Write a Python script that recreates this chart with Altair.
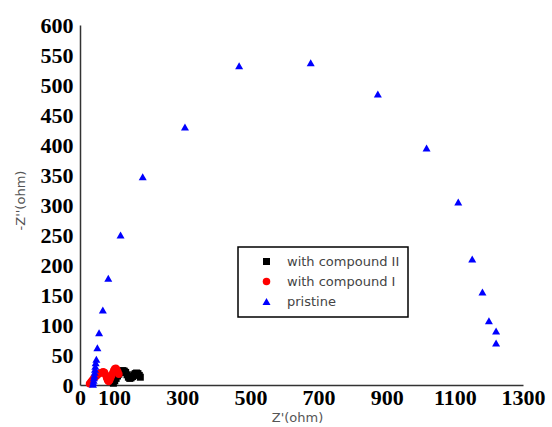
import altair as alt
import pandas as pd

series_order = ["with compound II", "with compound I", "pristine"]
series_colors = ["black", "red", "blue"]
series_shapes = ["square", "circle", "triangle-up"]
series_sizes = [49, 64, 110]

pristine_x = [38, 39, 40, 41, 42, 43, 44, 45, 46, 48, 51, 56, 67, 83, 119, 184, 308,
              467, 677, 874, 1017, 1110, 1151, 1181, 1200, 1221, 1221]
pristine_y = [1, 4, 8, 12, 16, 21, 26, 31, 37, 43, 62, 87, 125, 178, 250, 347, 430,
              532, 537, 485, 395, 305, 210, 155, 107, 90, 70]

comp1_x = [28, 32, 36, 40, 44, 48, 52, 56, 60, 64, 68, 72, 75, 78, 81, 84, 87, 90,
           93, 96, 99, 102, 105, 108, 111, 114]
comp1_y = [2, 5, 8, 11, 13, 15, 17, 19, 20, 21, 22, 21, 17, 12, 8, 6, 8, 12,
           16, 20, 24, 27, 28, 26, 22, 18]

comp2_x = [98, 102, 106, 110, 114, 118, 122, 126, 130, 134, 138, 142, 146, 150,
           154, 158, 162, 166, 170, 174, 177]
comp2_y = [3, 7, 11, 15, 18, 21, 23, 24, 23, 21, 17, 13, 11, 12,
           14, 17, 19, 20, 19, 16, 13]

x_ticks = [0, 100, 300, 500, 700, 900, 1100, 1300]
y_ticks = [0, 50, 100, 150, 200, 250, 300, 350, 400, 450, 500, 550, 600]

rows = []
for name, xs, ys in [("with compound II", comp2_x, comp2_y),
                     ("with compound I", comp1_x, comp1_y),
                     ("pristine", pristine_x, pristine_y)]:
    for a, b in zip(xs, ys):
        rows.append({"series": name, "zr": a, "zi": b, "order": series_order.index(name)})
df = pd.DataFrame(rows)

legend = alt.Legend(
    title=None, orient="none", legendX=158, legendY=222,
    strokeColor="black", fillColor="white", padding=8,
    symbolOffset=14, labelOffset=14, rowPadding=6,
    labelFont="DejaVu Sans", labelFontSize=13, labelColor="#444",
    symbolStrokeWidth=0,
)

chart = alt.Chart(df).mark_point(filled=True, opacity=1).encode(
    x=alt.X("zr:Q", scale=alt.Scale(domain=[0, 1300], nice=False, zero=False),
            axis=alt.Axis(values=x_ticks, format="d", grid=False, ticks=False, domainColor="#333",
                          domainWidth=1.5, labelFont="Liberation Serif",
                          labelFontWeight="bold", labelFontSize=22, labelColor="black",
                          labelPadding=2, labelFlush=False, labelOverlap=False,
                          title="Z'(ohm)", titleFont="DejaVu Sans", titleFontSize=13,
                          titleColor="#555", titleFontWeight="normal",
                          titleX=217, titleY=32, titleBaseline="middle")),
    y=alt.Y("zi:Q", scale=alt.Scale(domain=[0, 600], nice=False, zero=False),
            axis=alt.Axis(values=y_ticks, format="d", grid=False, ticks=False, domainColor="#333",
                          domainWidth=1.5, labelFont="Liberation Serif",
                          labelFontWeight="bold", labelFontSize=22, labelColor="black",
                          labelPadding=7, labelFlush=False, labelOverlap=False,
                          title="-Z''(ohm)", titleFont="DejaVu Sans", titleFontSize=13,
                          titleColor="#555", titleFontWeight="normal",
                          titleX=-60, titleY=175, titleAngle=270, titleBaseline="middle")),
    color=alt.Color("series:N", scale=alt.Scale(domain=series_order, range=series_colors), legend=legend),
    shape=alt.Shape("series:N", scale=alt.Scale(domain=series_order, range=series_shapes), legend=legend),
    size=alt.Size("series:N", scale=alt.Scale(domain=series_order, range=series_sizes), legend=legend),
    order=alt.Order("order:Q"),
).properties(
    width=443, height=360,
    autosize=alt.AutoSizeParams(type="none"),
    padding={"left": 80, "top": 25, "right": 29, "bottom": 42},
).configure_view(stroke=None).configure_legend(strokeWidth=1.5)

chart.save("out.html", embed_options={"renderer": "svg", "actions": False})
